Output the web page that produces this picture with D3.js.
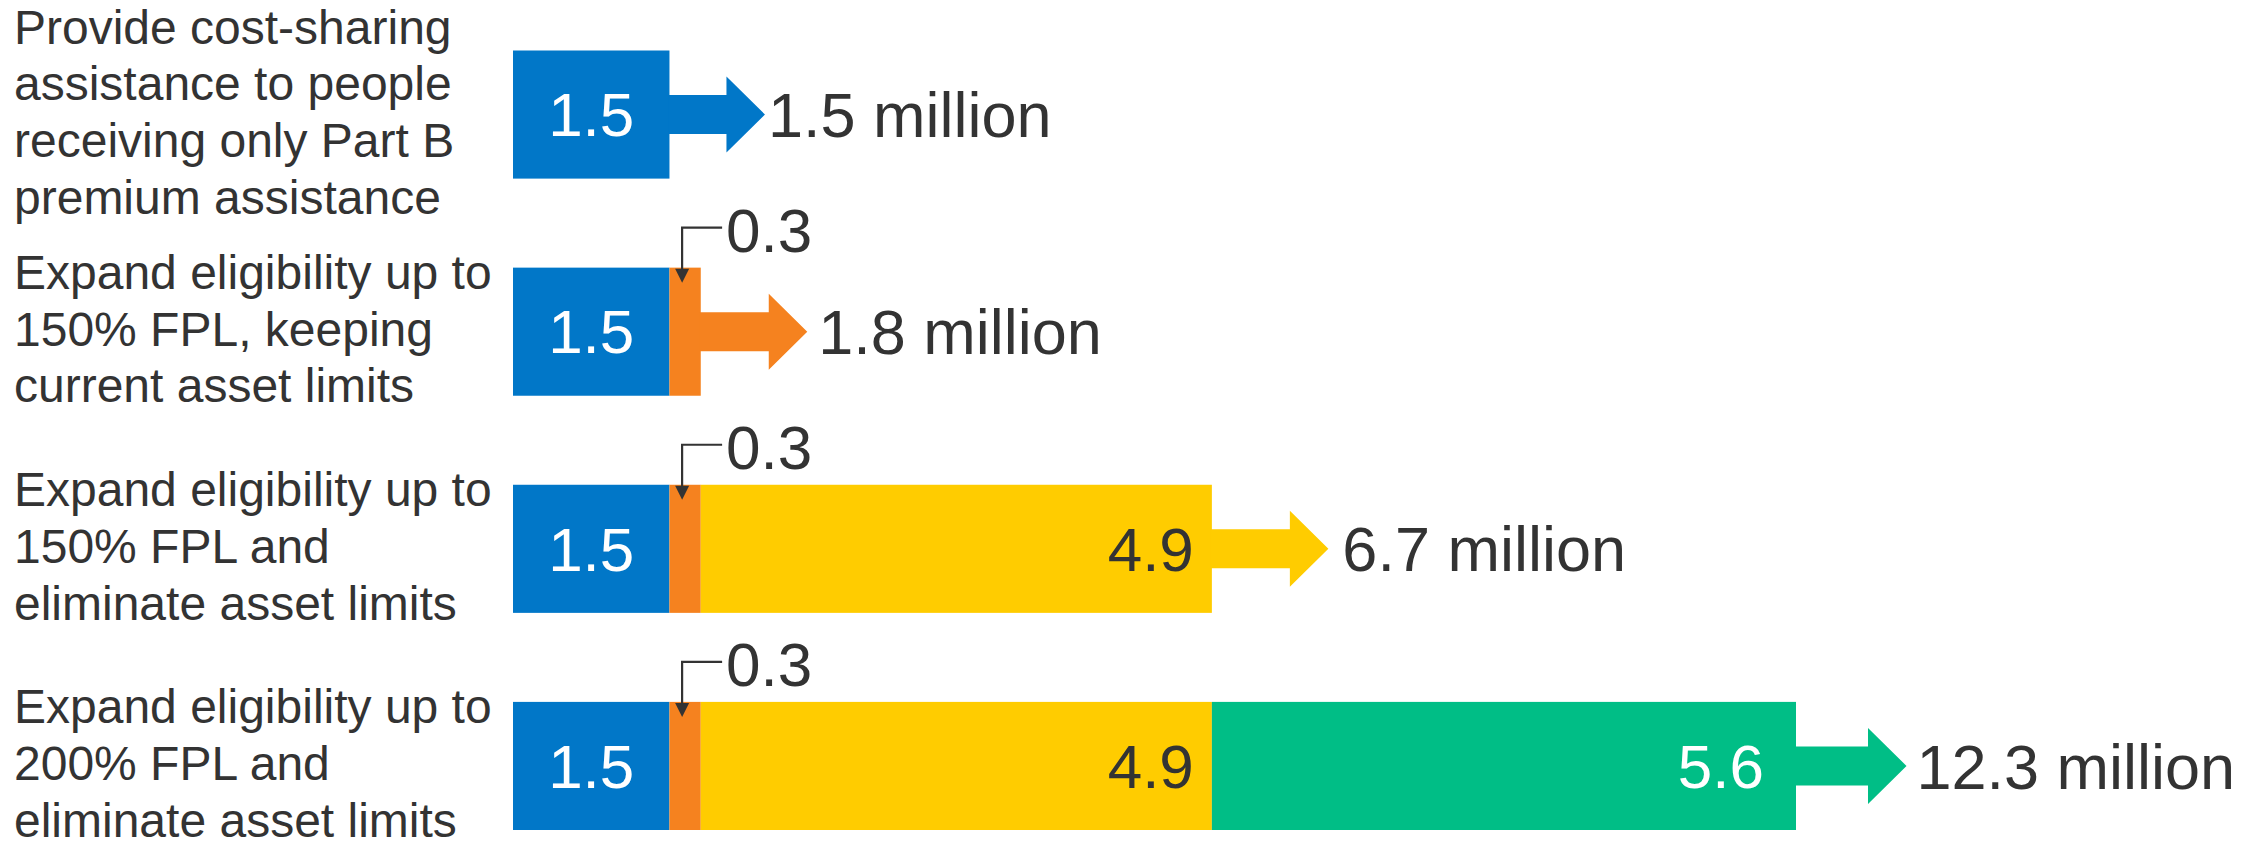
<!DOCTYPE html>
<html>
<head>
<meta charset="utf-8">
<script src="https://cdn.jsdelivr.net/npm/d3@7"></script>
<style>
  html, body { margin: 0; padding: 0; background: #ffffff; }
  svg { display: block; font-family: "Liberation Sans", Arial, sans-serif; }
</style>
</head>
<body>
<svg id="chart" width="2261" height="848"></svg>
<script>
// ---------------- data ----------------
const categories = [
  "Provide cost-sharing assistance to people receiving only Part B premium assistance",
  "Expand eligibility up to 150% FPL, keeping current asset limits",
  "Expand eligibility up to 150% FPL and eliminate asset limits",
  "Expand eligibility up to 200% FPL and eliminate asset limits"
];
const categoryLines = [
  ["Provide cost-sharing", "assistance to people", "receiving only Part B", "premium assistance"],
  ["Expand eligibility up to", "150% FPL, keeping", "current asset limits"],
  ["Expand eligibility up to", "150% FPL and", "eliminate asset limits"],
  ["Expand eligibility up to", "200% FPL and", "eliminate asset limits"]
];
const series1 = [1.5, 1.5, 1.5, 1.5];   // blue
const series2 = [0,   0.3, 0.3, 0.3];   // orange
const series3 = [0,   0,   4.9, 4.9];   // yellow
const series4 = [0,   0,   0,   5.6];   // green
const totalLabels = ["1.5 million", "1.8 million", "6.7 million", "12.3 million"];

// ---------------- styles / layout ----------------
const colors = ["#0177C8", "#F5821F", "#FFCC00", "#00BE86"];
const innerLabelColors = ["#ffffff", null, "#333333", "#ffffff"];
const innerLabelInset = [null, null, 18, 32]; // right-aligned insets (null = centered)
const arrowShaft = [57, 68, 78, 72];
const totalGap = [3, 11, 14, 10];
const textColor = "#333333";

const svg = d3.select("#chart");

const x = d3.scaleLinear().domain([0, 12.3]).range([513, 1796]);
const y = d3.scaleBand().domain(categories).range([50.5, 830]).paddingInner(0.41).paddingOuter(0);

const allSeries = [series1, series2, series3, series4];
const rows = categories.map((c, i) => {
  let acc = 0;
  const segs = allSeries.map((s, k) => {
    const seg = { k, v: s[i], x0: acc, x1: acc + s[i] };
    acc += s[i];
    return seg;
  }).filter(s => s.v > 0);
  return { c, i, segs, total: acc };
});

const bw = y.bandwidth();
const g = svg.append("g");

rows.forEach(r => {
  const top = y(r.c);
  const cy = top + bw / 2;
  const rg = g.append("g");

  // category label
  const lines = categoryLines[r.i];
  const lh = 56.7;
  const text = rg.append("text")
    .attr("x", 14)
    .attr("fill", textColor)
    .attr("font-size", 48);
  lines.forEach((ln, j) => {
    text.append("tspan")
      .attr("x", 14)
      .attr("y", cy + 14 + (j - (lines.length - 1) / 2) * lh)
      .text(ln);
  });

  // segments
  rg.selectAll("rect.seg").data(r.segs).enter().append("rect")
    .attr("class", "seg")
    .attr("x", d => x(d.x0))
    .attr("y", top)
    .attr("width", d => x(d.x1) - x(d.x0))
    .attr("height", bw)
    .attr("fill", d => colors[d.k]);

  // inner labels
  r.segs.forEach(d => {
    if (d.k === 1) return;
    const inset = innerLabelInset[d.k];
    const fs = 62;
    rg.append("text")
      .attr("x", inset == null ? (x(d.x0) + x(d.x1)) / 2 : x(d.x1) - inset)
      .attr("y", cy + fs * 0.35)
      .attr("text-anchor", inset == null ? "middle" : "end")
      .attr("font-size", fs)
      .attr("fill", innerLabelColors[d.k])
      .text(d3.format(".1f")(d.v));
  });

  // callout for small orange segment
  r.segs.filter(d => d.k === 1).forEach(d => {
    const ax = (x(d.x0) + x(d.x1)) / 2 - 3;
    const ly = top - 40;
    const tipY = top + 15;
    rg.append("path")
      .attr("d", `M${ax + 40},${ly} H${ax} V${tipY - 12}`)
      .attr("fill", "none")
      .attr("stroke", textColor)
      .attr("stroke-width", 2.2);
    rg.append("path")
      .attr("d", `M${ax - 7},${tipY - 14} L${ax + 7},${tipY - 14} L${ax},${tipY} Z`)
      .attr("fill", textColor);
    rg.append("text")
      .attr("x", ax + 44)
      .attr("y", top - 16)
      .attr("font-size", 62)
      .attr("fill", textColor)
      .text(d3.format(".1f")(d.v));
  });

  // block arrow
  const last = r.segs[r.segs.length - 1];
  const sx = x(r.total);
  const shaftH = 39, headH = 76, headL = 38.5;
  const hx = sx + arrowShaft[r.i];
  const tip = hx + headL;
  const arrow = d3.path();
  arrow.moveTo(sx - 1, cy - shaftH / 2);
  arrow.lineTo(hx, cy - shaftH / 2);
  arrow.lineTo(hx, cy - headH / 2);
  arrow.lineTo(tip, cy);
  arrow.lineTo(hx, cy + headH / 2);
  arrow.lineTo(hx, cy + shaftH / 2);
  arrow.lineTo(sx - 1, cy + shaftH / 2);
  arrow.closePath();
  rg.append("path").attr("d", arrow.toString()).attr("fill", colors[last.k]);

  // total label
  rg.append("text")
    .attr("x", tip + totalGap[r.i])
    .attr("y", cy + 63 * 0.358)
    .attr("font-size", 63)
    .attr("fill", textColor)
    .text(totalLabels[r.i]);
});
</script>
</body>
</html>
